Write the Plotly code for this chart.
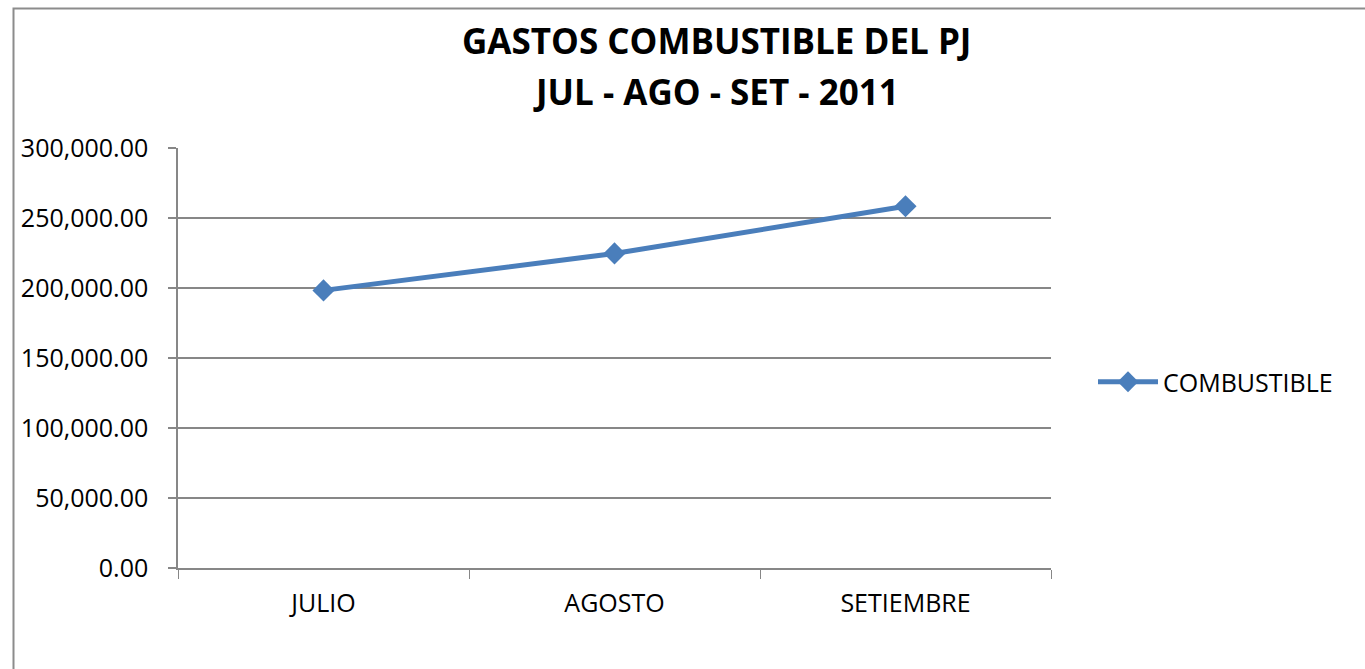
import plotly.graph_objects as go

categories = ["JULIO", "AGOSTO", "SETIEMBRE"]
combustible = [198300, 224700, 258400]
y_ticks = [0, 50000, 100000, 150000, 200000, 250000, 300000]
title_line1 = "GASTOS COMBUSTIBLE DEL PJ"
title_line2 = "JUL - AGO - SET - 2011"
series_name = "COMBUSTIBLE"

W, H = 1365, 669
L, R, T, B = 178, 1051, 148, 568
pw, ph = R - L, B - T

def px(x):
    return (x - L) / pw

def py(y):
    return (B - y) / ph

blue = "#4A7EBB"
gray = "#878787"
font = "Open Sans"

fig = go.Figure()
fig.add_trace(go.Scatter(
    x=categories, y=combustible, name=series_name, mode="lines+markers",
    line=dict(color=blue, width=5),
    marker=dict(symbol="diamond", size=17, color=blue),
))

fig.update_layout(
    width=W, height=H,
    margin=dict(l=L, r=W - R, t=T, b=H - B),
    paper_bgcolor="white", plot_bgcolor="white",
    font=dict(family=font, size=25, color="black"),
    showlegend=True,
    legend=dict(x=px(1093), y=py(382), xanchor="left", yanchor="middle",
                font=dict(size=25, family=font), itemwidth=60,
                bgcolor="rgba(0,0,0,0)"),
    xaxis=dict(type="category", range=[-0.5, 2.5], tickson="boundaries",
               ticks="outside", ticklen=9, tickcolor=gray, tickwidth=1,
               showline=True, linecolor=gray, linewidth=2, showgrid=False,
               ticklabelstandoff=12,
               tickfont=dict(size=25, family=font), fixedrange=True),
    yaxis=dict(range=[0, 300000], tickvals=y_ticks, tickformat=",.2f",
               ticks="outside", ticklen=8, tickcolor=gray, tickwidth=1.5,
               showline=True, linecolor=gray, linewidth=1.5,
               showgrid=True, gridcolor=gray, gridwidth=1.5, zeroline=False,
               ticklabelstandoff=15,
               tickfont=dict(size=25, family=font), fixedrange=True),
)

fig.add_annotation(text="<b>" + title_line1 + "</b>", xref="paper", yref="paper",
                   x=px(716), y=py(40), xanchor="center", yanchor="middle",
                   showarrow=False, font=dict(size=35, family=font, color="black"))
fig.add_annotation(text="<b>" + title_line2 + "</b>", xref="paper", yref="paper",
                   x=px(716), y=py(91), xanchor="center", yanchor="middle",
                   showarrow=False, font=dict(size=35, family=font, color="black"))

fig.add_shape(type="rect", xref="paper", yref="paper",
              x0=px(13.5), x1=px(1380), y0=py(680), y1=py(8.5),
              line=dict(color="#8C8C8C", width=2), layer="below")

fig.write_html("out.html", config={"displayModeBar": False},
               post_script="document.body.style.margin='0';document.body.style.overflow='hidden';")
